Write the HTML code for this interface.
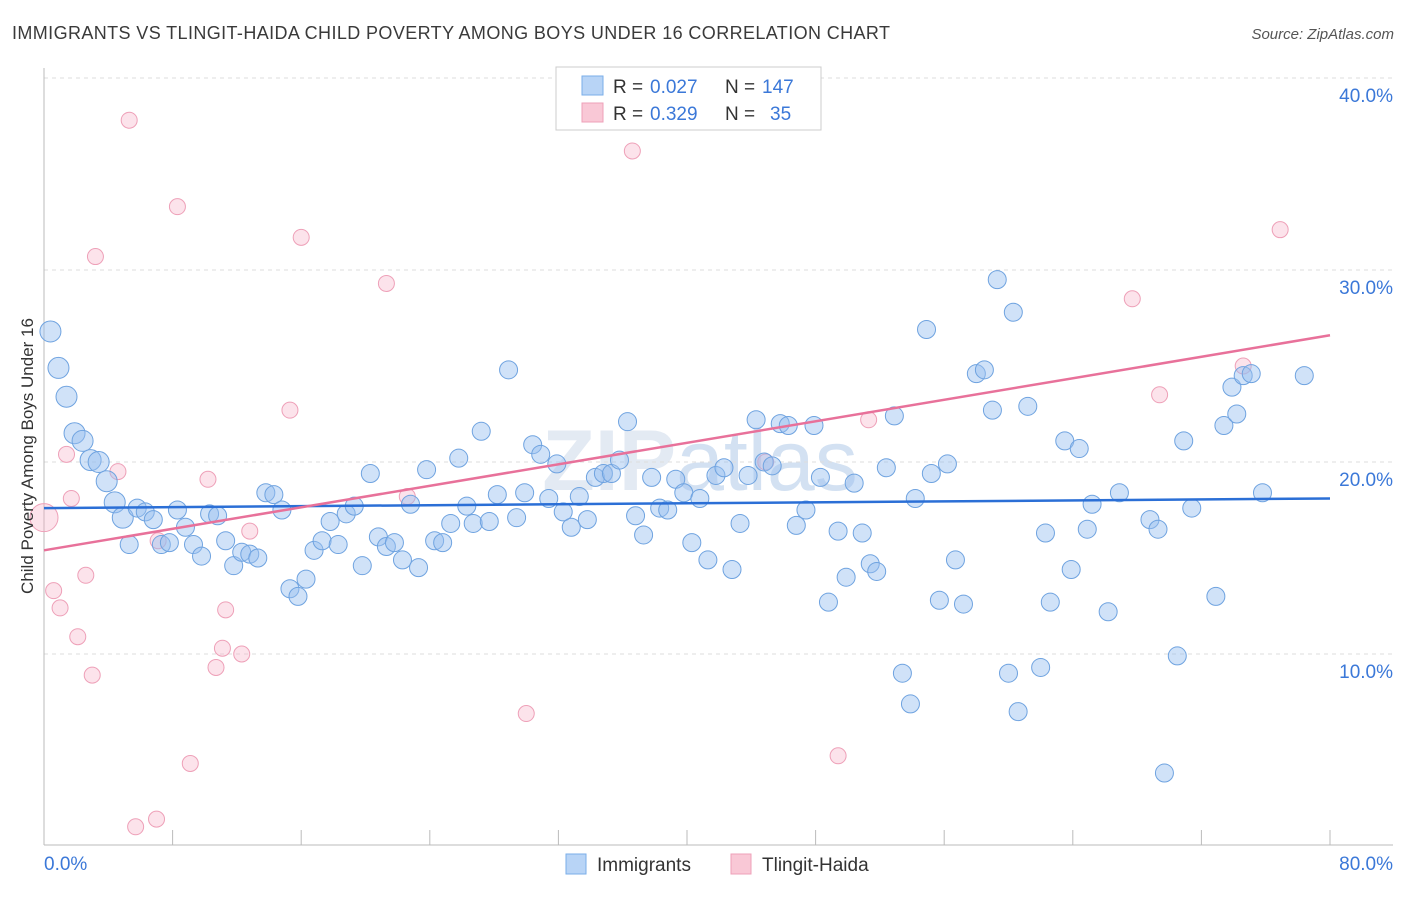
<!DOCTYPE html>
<html><head><meta charset="utf-8"><style>
body{margin:0;background:#fff;font-family:"Liberation Sans",sans-serif;}
svg text{font-family:"Liberation Sans",sans-serif;}
</style></head><body>
<svg id="chart" width="1406" height="892" xmlns="http://www.w3.org/2000/svg">
<text x="12" y="39" font-size="18" fill="#3a3a3a" textLength="878">IMMIGRANTS VS TLINGIT-HAIDA CHILD POVERTY AMONG BOYS UNDER 16 CORRELATION CHART</text>
<text x="1394" y="39" font-size="15" fill="#555" text-anchor="end" font-style="italic">Source: ZipAtlas.com</text>
<text x="700" y="490" font-size="86" fill="#e3eaf3" text-anchor="middle" font-weight="bold">ZIP<tspan fill="#d3e1f2" font-weight="normal">atlas</tspan></text>
<g id="grid"></g>
<g id="axes"></g>
<g id="pinkPts"></g>
<g id="bluePts"></g>
<g id="lines"></g>
<text transform="translate(33,456) rotate(-90)" font-size="17" fill="#333" text-anchor="middle">Child Poverty Among Boys Under 16</text>
<g>
<rect x="556" y="67" width="265" height="63" fill="#fff" stroke="#ccc"/>
<rect x="582" y="76" width="21" height="19" fill="#b8d4f6" stroke="#7aaee8"/>
<rect x="582" y="103" width="21" height="19" fill="#f9c8d6" stroke="#eea0b8"/>
<text x="613" y="93" font-size="19" fill="#333">R =</text>
<text x="650" y="93" font-size="19" fill="#3b78d8">0.027</text>
<text x="725" y="93" font-size="19" fill="#333">N =</text>
<text x="762" y="93" font-size="19" fill="#3b78d8">147</text>
<text x="613" y="120" font-size="19" fill="#333">R =</text>
<text x="650" y="120" font-size="19" fill="#3b78d8">0.329</text>
<text x="725" y="120" font-size="19" fill="#333">N =</text>
<text x="770" y="120" font-size="19" fill="#3b78d8">35</text>
</g>
<g>
<rect x="566" y="854" width="20" height="20" fill="#b8d4f6" stroke="#7aaee8"/>
<text x="597" y="871" font-size="19" fill="#333">Immigrants</text>
<rect x="731" y="854" width="20" height="20" fill="#f9c8d6" stroke="#eea0b8"/>
<text x="762" y="871" font-size="19" fill="#333">Tlingit-Haida</text>
</g>
</svg>
<script>
const yTicks=[10,20,30,40];
const yTickLabels=["10.0%","20.0%","30.0%","40.0%"];
const xTicks=[0,8,16,24,32,40,48,56,64,72,80];
const xLabels=["0.0%","80.0%"];
const blueX=[0.4,0.9,1.4,1.9,2.4,2.9,3.4,3.9,4.4,4.9,5.3,5.8,6.3,6.8,7.3,7.8,8.3,8.8,9.3,9.8,10.3,10.8,11.3,11.8,12.3,12.8,13.3,13.8,14.3,14.8,15.3,15.8,16.3,16.8,17.3,17.8,18.3,18.8,19.3,19.8,20.3,20.8,21.3,21.8,22.3,22.8,23.3,23.8,24.3,24.8,25.3,25.8,26.3,26.7,27.2,27.7,28.2,28.9,29.4,29.9,30.4,30.9,31.4,31.9,32.3,32.8,33.3,33.8,34.3,34.8,35.3,35.8,36.3,36.8,37.3,37.8,38.3,38.8,39.3,39.8,40.3,40.8,41.3,41.8,42.3,42.8,43.3,43.8,44.3,44.8,45.3,45.8,46.3,46.8,47.4,47.9,48.3,48.8,49.4,49.9,50.4,50.9,51.4,51.8,52.4,52.9,53.4,53.9,54.2,54.9,55.2,55.7,56.2,56.7,57.2,58.0,58.5,59.0,59.3,60.0,60.3,60.6,61.2,62.0,62.3,62.6,63.5,63.9,64.4,64.9,65.2,66.2,66.9,68.8,69.3,69.7,70.5,70.9,71.4,72.9,73.4,73.9,74.2,74.6,75.1,75.8,78.4];
const blueY=[26.8,24.9,23.4,21.5,21.1,20.1,20.0,19.0,17.9,17.1,15.7,17.6,17.4,17.0,15.7,15.8,17.5,16.6,15.7,15.1,17.3,17.2,15.9,14.6,15.3,15.2,15.0,18.4,18.3,17.5,13.4,13.0,13.9,15.4,15.9,16.9,15.7,17.3,17.7,14.6,19.4,16.1,15.6,15.8,14.9,17.8,14.5,19.6,15.9,15.8,16.8,20.2,17.7,16.8,21.6,16.9,18.3,24.8,17.1,18.4,20.9,20.4,18.1,19.9,17.4,16.6,18.2,17.0,19.2,19.4,19.4,20.1,22.1,17.2,16.2,19.2,17.6,17.5,19.1,18.4,15.8,18.1,14.9,19.3,19.7,14.4,16.8,19.3,22.2,20.0,19.8,22.0,21.9,16.7,17.5,21.9,19.2,12.7,16.4,14.0,18.9,16.3,14.7,14.3,19.7,22.4,9.0,7.4,18.1,26.9,19.4,12.8,19.9,14.9,12.6,24.6,24.8,22.7,29.5,9.0,27.8,7.0,22.9,9.3,16.3,12.7,21.1,14.4,20.7,16.5,17.8,12.2,18.4,17.0,16.5,3.8,9.9,21.1,17.6,13.0,21.9,23.9,22.5,24.5,24.6,18.4,24.5];
const pinkX=[0.0,0.6,1.0,1.4,1.7,2.1,2.6,3.0,3.2,4.6,5.3,5.7,7.0,7.1,8.3,9.1,10.2,10.7,11.1,11.3,12.3,12.8,15.3,16.0,21.3,22.6,30.0,36.6,44.9,49.4,51.3,67.7,69.4,74.6,76.9];
const pinkY=[17.1,13.3,12.4,20.4,18.1,10.9,14.1,8.9,30.7,19.5,37.8,1.0,1.4,15.9,33.3,4.3,19.1,9.3,10.3,12.3,10.0,16.4,22.7,31.7,29.3,18.2,6.9,36.2,20.0,4.7,22.2,28.5,23.5,25.0,32.1];
const blueTrend=[17.6,18.1];
const pinkTrend=[15.4,26.6];

const NS="http://www.w3.org/2000/svg";
const X=v=>44+v/80*1286;
const Y=v=>846-v*19.2;
function mk(tag,parent,attrs){const e=document.createElementNS(NS,tag);for(const k in attrs)e.setAttribute(k,attrs[k]);document.getElementById(parent).appendChild(e);return e;}
yTicks.forEach((t,i)=>{
 const l=mk('line','grid',{x1:44,x2:1393,y1:Y(t),y2:Y(t),stroke:'#ddd','stroke-dasharray':'4,4'});
 
 
 const tx=mk('text','grid',{x:1393,y:Y(t)+24,'font-size':19,fill:'#3b78d8','text-anchor':'end'});
 tx.textContent=yTickLabels[i];
 
 
});
const ax=mk('line','axes',{x1:44,x2:1393,y1:845,y2:845,stroke:'#bbb'});


const ay=mk('line','axes',{x1:44,x2:44,y1:68,y2:845,stroke:'#bbb'});


xTicks.forEach(t=>{
 const l=mk('line','axes',{x1:X(t),x2:X(t),y1:830,y2:845,stroke:'#bbb'});
 
 
});
[[0,'start',44],[80,'end',1393]].forEach((d,i)=>{
 const t=mk('text','axes',{x:d[2],y:870,'font-size':19,fill:'#3b78d8','text-anchor':d[1]});
 t.textContent=xLabels[i];
 
 
});
pinkX.forEach((x,i)=>{
 const c=mk('circle','pinkPts',{cx:X(x),cy:Y(pinkY[i]),r:(i==0?14:8),fill:'rgba(246,176,198,0.35)',stroke:'#eea0b8','stroke-width':1});
 
 
});
blueX.forEach((x,i)=>{
 const c=mk('circle','bluePts',{cx:X(x),cy:Y(blueY[i]),r:(x<5?10.5:9),fill:'rgba(150,190,240,0.45)',stroke:'#6fa3e0','stroke-width':1});
 
 
});
const bl=mk('line','lines',{x1:X(0),x2:X(80),y1:Y(blueTrend[0]),y2:Y(blueTrend[1]),stroke:'#2b6fd6','stroke-width':2.5});


const pl=mk('line','lines',{x1:X(0),x2:X(80),y1:Y(pinkTrend[0]),y2:Y(pinkTrend[1]),stroke:'#e8719a','stroke-width':2.5});


</script>
</body></html>
